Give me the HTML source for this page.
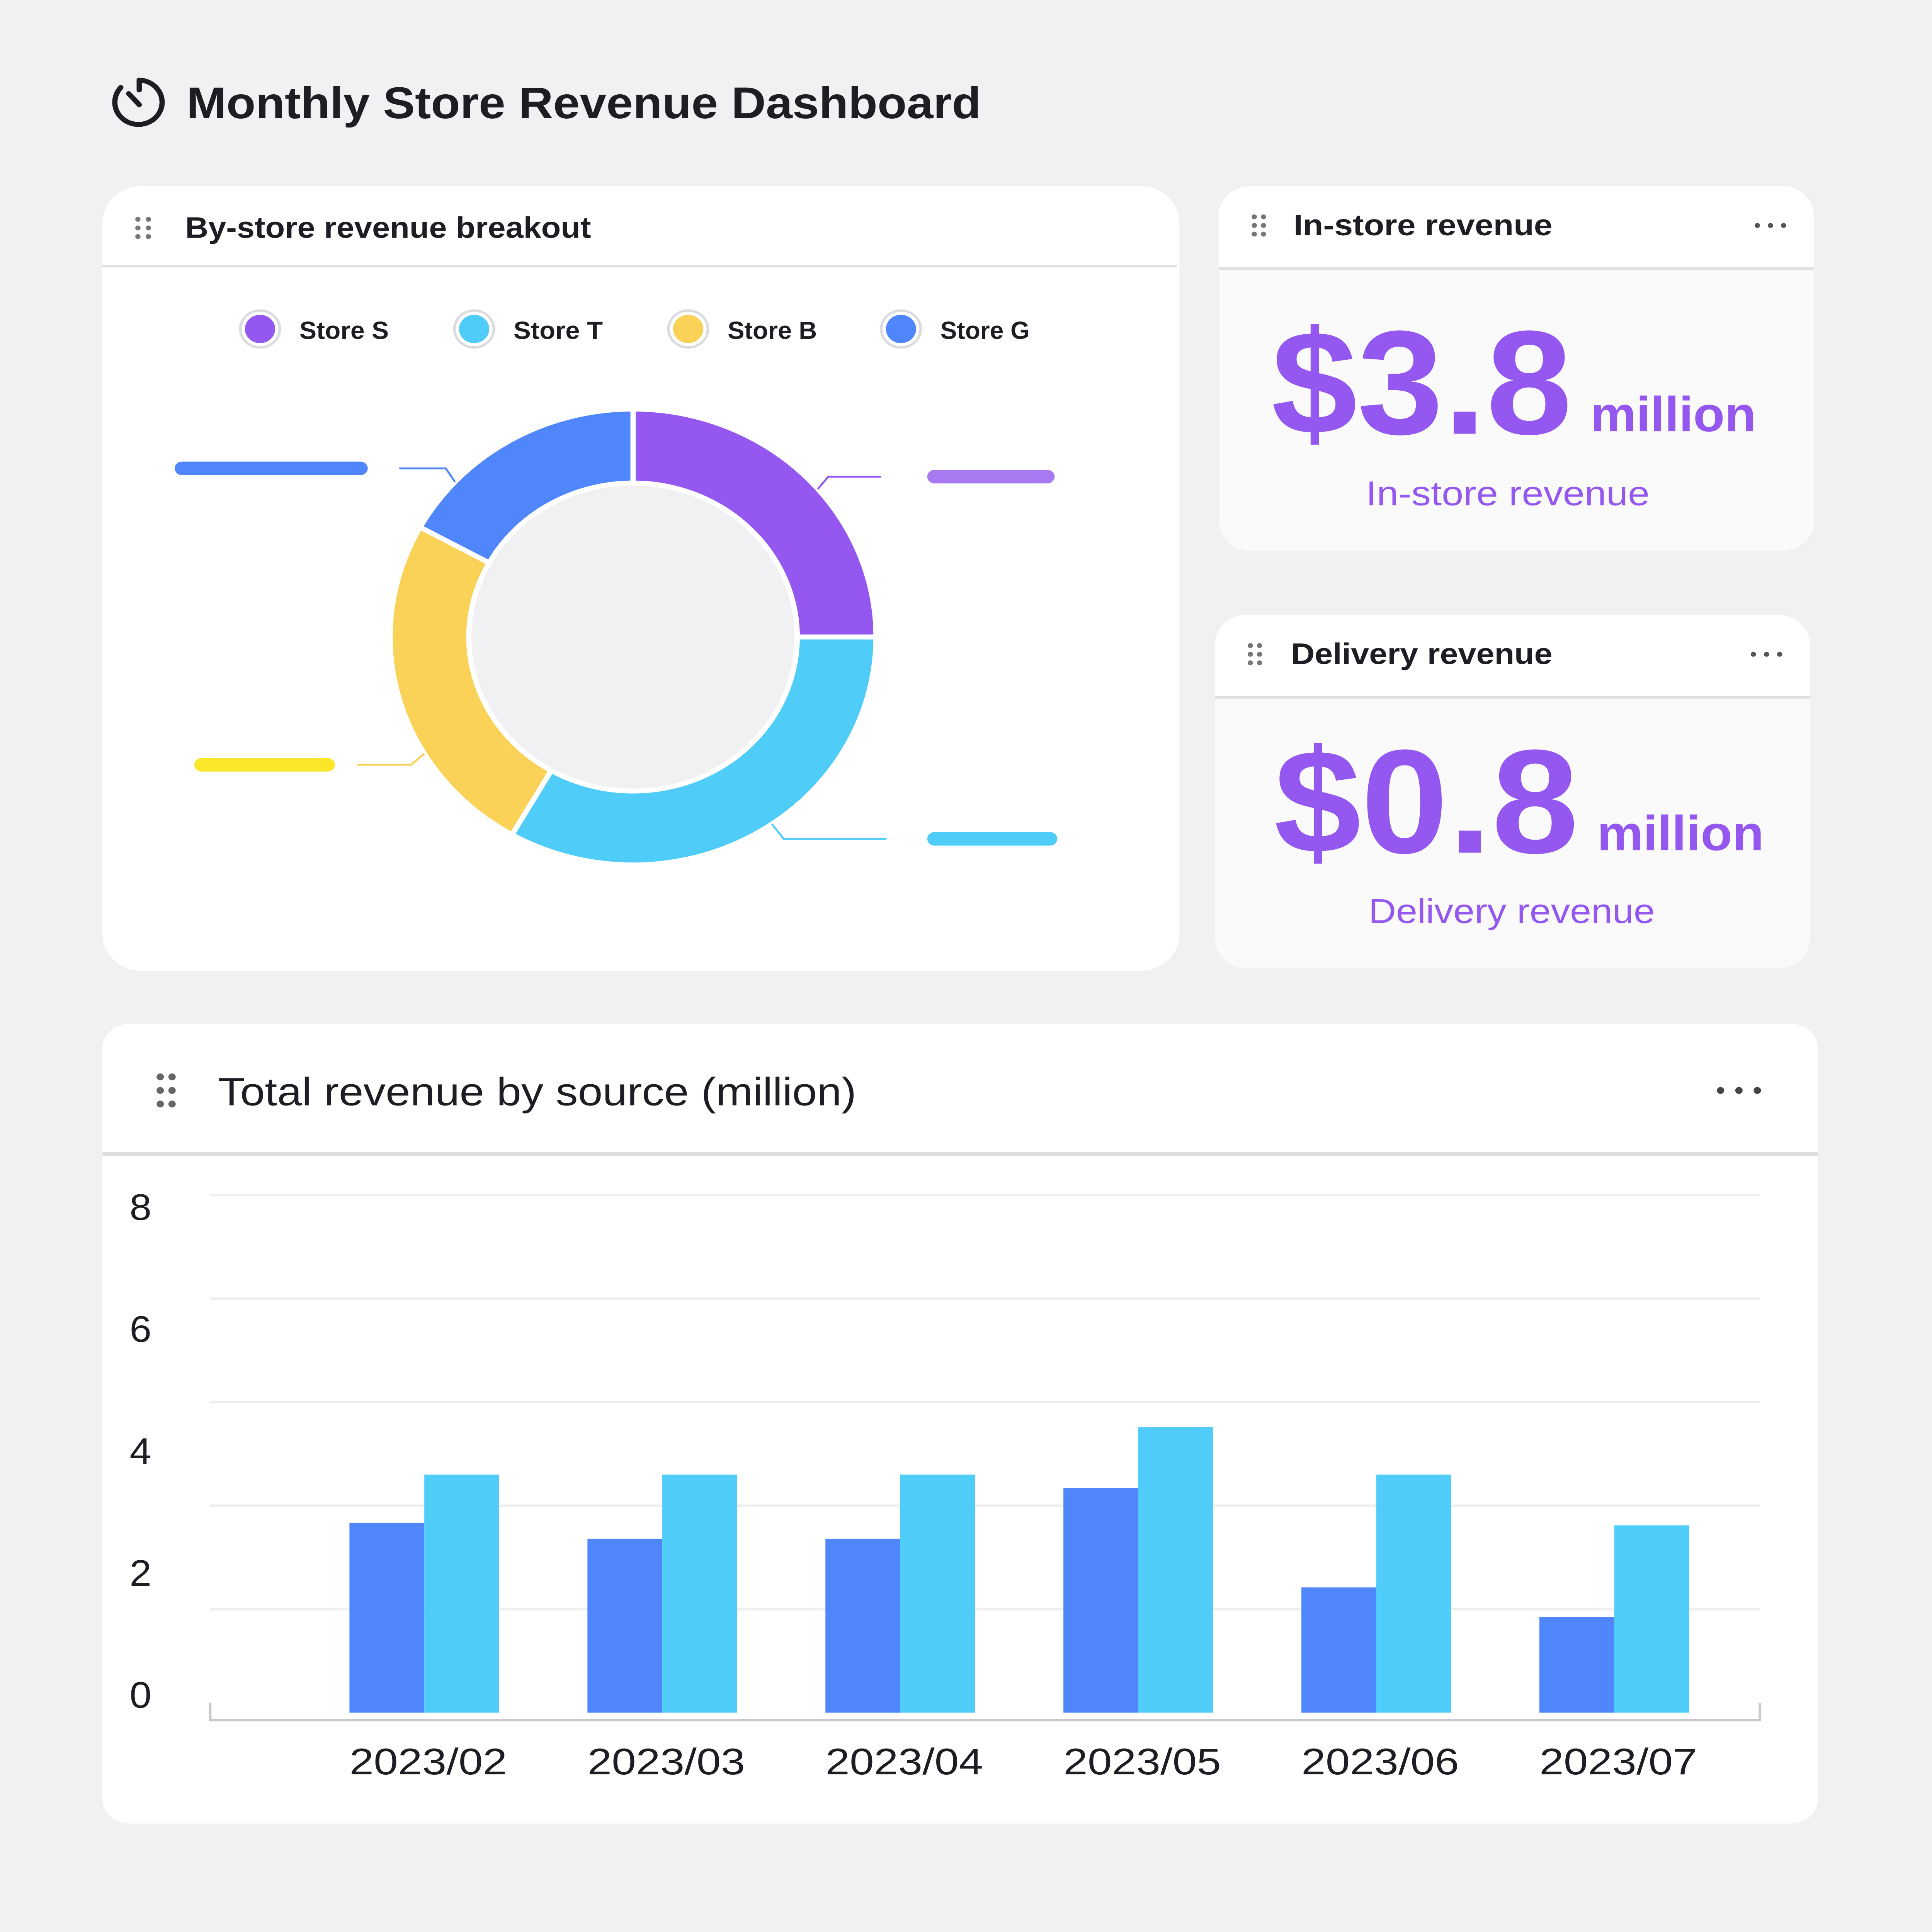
<!DOCTYPE html>
<html><head><meta charset="utf-8"><style>
html,body{margin:0;padding:0;width:100%;height:100%;overflow:hidden;background:#f1f1f3;}
svg#root{display:block;position:fixed;left:0;top:0;width:100vw;height:100vh;}
text{font-family:"Liberation Sans",sans-serif;}
</style></head><body>
<svg id="root" viewBox="0 0 1471 1568" preserveAspectRatio="none">
<rect x="0" y="0" width="1471" height="1568" fill="#f1f1f3"/>
<g transform="translate(83,60)">
<path d="M23 5 A18 18 0 1 1 9 11" fill="none" stroke="#1d1e24" stroke-width="4" stroke-linecap="round"/>
<path d="M23 5 L23 13" stroke="#1d1e24" stroke-width="4" stroke-linecap="round"/>
<path d="M15 16 L23 25" stroke="#1d1e24" stroke-width="4" stroke-linecap="round"/>
</g>
<text x="142" y="96" font-size="36" font-weight="bold" fill="#1d1e24" textLength="605" lengthAdjust="spacingAndGlyphs">Monthly Store Revenue Dashboard</text>

<g>
<rect x="78" y="151" width="820" height="637" rx="30" fill="#fff"/>
<g fill="#777"><circle cx="105" cy="178" r="2"/><circle cx="113" cy="178" r="2"/><circle cx="105" cy="185" r="2"/><circle cx="113" cy="185" r="2"/><circle cx="105" cy="192" r="2"/><circle cx="113" cy="192" r="2"/></g>
<text x="141" y="193" font-size="24" font-weight="bold" fill="#1d1e24" textLength="309" lengthAdjust="spacingAndGlyphs">By-store revenue breakout</text>
<rect x="78" y="215" width="818" height="2" fill="#dedfe3"/>
<g id="donut"></g>
</g>

<g>
<rect x="928" y="151" width="453" height="296" rx="24" fill="#fafafa"/>
<path d="M928 218 V175 A24 24 0 0 1 952 151 H1357 A24 24 0 0 1 1381 175 V218 Z" fill="#fff"/>
<rect x="928" y="217" width="453" height="2" fill="#dedfe3"/>
<g fill="#777"><circle cx="955" cy="176" r="2"/><circle cx="962" cy="176" r="2"/><circle cx="955" cy="183" r="2"/><circle cx="962" cy="183" r="2"/><circle cx="955" cy="190" r="2"/><circle cx="962" cy="190" r="2"/></g>
<text x="985" y="191" font-size="24" font-weight="bold" fill="#1d1e24" textLength="197" lengthAdjust="spacingAndGlyphs">In-store revenue</text>
<g fill="#555"><circle cx="1338" cy="183" r="2"/><circle cx="1348" cy="183" r="2"/><circle cx="1358" cy="183" r="2"/></g>
<text x="968" y="352" font-size="120" font-weight="bold" fill="#9457f0" textLength="229" lengthAdjust="spacingAndGlyphs">$3.8</text>
<text x="1211" y="350" font-size="40" font-weight="bold" fill="#9457f0" textLength="126" lengthAdjust="spacingAndGlyphs">million</text>
<text x="1040" y="410" font-size="28" fill="#9457f0" textLength="216" lengthAdjust="spacingAndGlyphs">In-store revenue</text>
</g>

<g>
<rect x="925" y="499" width="453" height="287" rx="24" fill="#fafafa"/>
<path d="M925 566 V523 A24 24 0 0 1 949 499 H1354 A24 24 0 0 1 1378 523 V566 Z" fill="#fff"/>
<rect x="925" y="565" width="453" height="2" fill="#dedfe3"/>
<g fill="#777"><circle cx="952" cy="524" r="2"/><circle cx="959" cy="524" r="2"/><circle cx="952" cy="531" r="2"/><circle cx="959" cy="531" r="2"/><circle cx="952" cy="538" r="2"/><circle cx="959" cy="538" r="2"/></g>
<text x="983" y="539" font-size="24" font-weight="bold" fill="#1d1e24" textLength="199" lengthAdjust="spacingAndGlyphs">Delivery revenue</text>
<g fill="#555"><circle cx="1335" cy="531" r="2"/><circle cx="1345" cy="531" r="2"/><circle cx="1355" cy="531" r="2"/></g>
<text x="970" y="692" font-size="120" font-weight="bold" fill="#9457f0" textLength="232" lengthAdjust="spacingAndGlyphs">$0.8</text>
<text x="1216" y="690" font-size="40" font-weight="bold" fill="#9457f0" textLength="127" lengthAdjust="spacingAndGlyphs">million</text>
<text x="1042" y="749" font-size="28" fill="#9457f0" textLength="218" lengthAdjust="spacingAndGlyphs">Delivery revenue</text>
</g>

<g>
<rect x="78" y="831" width="1306" height="649" rx="20" fill="#fff"/>
<rect x="78" y="935" width="1306" height="3" fill="#dedfe3"/>
<g fill="#666"><circle cx="122" cy="874" r="2.8"/><circle cx="131" cy="874" r="2.8"/><circle cx="122" cy="885" r="2.8"/><circle cx="131" cy="885" r="2.8"/><circle cx="122" cy="896" r="2.8"/><circle cx="131" cy="896" r="2.8"/></g>
<text x="166" y="897" font-size="32" fill="#1d1e24" textLength="486" lengthAdjust="spacingAndGlyphs">Total revenue by source (million)</text>
<g fill="#444"><circle cx="1310" cy="885" r="2.8"/><circle cx="1324" cy="885" r="2.8"/><circle cx="1338" cy="885" r="2.8"/></g>
<g id="bars"></g>
</g>
</svg>
<script>
// donut data
const storeNames = ["Store S","Store T","Store B","Store G"];
const storeShares = [25, 33.3, 24.7, 17];
const storeColors = ["#9457f0","#4fcdf8","#f9d257","#4f86fb"];
// bar data
const months = ["2023/02","2023/03","2023/04","2023/05","2023/06","2023/07"];
const deliverySeries = [3.67, 3.36, 3.36, 4.34, 2.42, 1.85];
const instoreSeries = [4.6, 4.6, 4.6, 5.52, 4.6, 3.62];
const yTicks = ["0","2","4","6","8"];

const NS="http://www.w3.org/2000/svg";
function mk(p,t,a){const e=document.createElementNS(NS,t);for(const k in a)e.setAttribute(k,a[k]);p.appendChild(e);return e;}

(function(){
const svg=document.getElementById('donut');
const legX=[198,361,524,686];
storeNames.forEach((n,i)=>{
  const g=mk(svg,'g',{});
  
  
  mk(g,'circle',{cx:legX[i],cy:267,r:15,fill:'#fff',stroke:'#dcdce0','stroke-width':2});
  mk(g,'circle',{cx:legX[i],cy:267,r:11.5,fill:storeColors[i]});
  const t=mk(g,'text',{x:legX[i]+30,y:275,'font-size':20,'font-weight':'bold',fill:'#1d1e24',textLength:68,lengthAdjust:'spacingAndGlyphs'});
  t.textContent=n;
});
const cx=482,cy=517,R=185,r=125;
// leader-line layout per slice: position along slice, elbow offset, horizontal end, label bar
const lf=[0.55,0.46,0.33,0.23];
const elb=[[8,-10],[9,12],[-10,9],[-7,-11]];
const hend=[671,675,272,304];
const lbar=[[706,97],[706,99],[148,107],[133,147]];
const lcol=['#a77af2','#4fcdf8','#fbe62a','#4f86fb'];
const total=storeShares.reduce((a,b)=>a+b,0);
let a0=0;
storeShares.forEach((v,i)=>{
  const a1=a0+v/total*2*Math.PI;
  const P=(a,rr)=>[cx+rr*Math.sin(a),cy-rr*Math.cos(a)];
  const [x1,y1]=P(a0,R),[x2,y2]=P(a1,R),[x3,y3]=P(a1,r),[x4,y4]=P(a0,r);
  const lg=(a1-a0)>Math.PI?1:0;
  const p=mk(svg,'path',{d:`M${x1},${y1}A${R},${R} 0 ${lg} 1 ${x2},${y2}L${x3},${y3}A${r},${r} 0 ${lg} 0 ${x4},${y4}Z`,fill:storeColors[i],stroke:'#fff','stroke-width':4});
  
  
  const am=a0+(a1-a0)*lf[i];
  const [lx,ly]=P(am,R);
  const ex=lx+elb[i][0], ey=ly+elb[i][1];
  const l=mk(svg,'polyline',{points:`${lx},${ly} ${ex},${ey} ${hend[i]},${ey}`,fill:'none',stroke:storeColors[i],'stroke-width':1.5});
  
  
  const b=mk(svg,'rect',{x:lbar[i][0],y:ey-5.5,width:lbar[i][1],height:11,rx:5.5,fill:lcol[i]});
  
  
  a0=a1;
});
mk(svg,'circle',{cx:cx,cy:cy,r:r-2,fill:'#f1f1f3'});
})();

(function(){
const svg=document.getElementById('bars');
const x0=160,x1=1340,yBase=1390,yTop=970,vmax=10;
const y=v=>yBase-(v/vmax)*(yBase-yTop);
[2,4,6,8,10].forEach(v=>{const g=mk(svg,'line',{x1:x0,x2:x1,y1:y(v),y2:y(v),stroke:'#efeff1','stroke-width':2});
});
const ax=mk(svg,'path',{d:`M${x0},${yBase-8}V${yBase+6}H${x1}V${yBase-8}`,fill:'none',stroke:'#c9c9cd','stroke-width':2});

yTicks.forEach((t,i)=>{const e=mk(svg,'text',{x:107,y:1386-i*99,'font-size':30,fill:'#1d1e24','text-anchor':'middle'});
e.textContent=t;});
const step=181.2;
const bw=57;
months.forEach((m,i)=>{
  const c=x0+step*(i+0.9);
  const b1=mk(svg,'rect',{x:c-bw,y:y(deliverySeries[i]),width:bw,height:yBase-y(deliverySeries[i]),fill:'#4f86fb'});
  
  const b2=mk(svg,'rect',{x:c,y:y(instoreSeries[i]),width:bw,height:yBase-y(instoreSeries[i]),fill:'#4fcdf8'});
  
  const t=mk(svg,'text',{x:c+3,y:1440,'font-size':30,fill:'#1d1e24','text-anchor':'middle',textLength:120,lengthAdjust:'spacingAndGlyphs'});
  t.textContent=m;
});
})();
</script>
</body></html>
